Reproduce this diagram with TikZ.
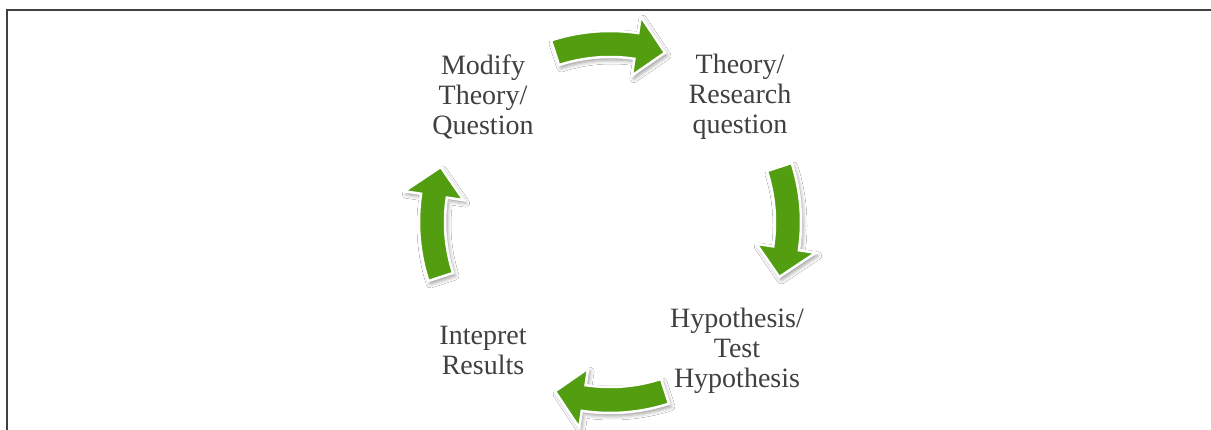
\documentclass[tikz,border=0pt]{standalone}
\usepackage{fontspec}
\setmainfont{Liberation Serif}
\usetikzlibrary{shadows.blur}
\definecolor{arrowgreen}{RGB}{82,158,16}
\definecolor{labelgray}{RGB}{64,64,64}
\begin{document}
\begin{tikzpicture}[x=1pt,y=-1pt,
  cyclelabel/.style={align=center, text=labelgray,
    font=\fontsize{28}{30}\selectfont, inner sep=0pt},
  cyclearrow/.style={fill=arrowgreen, draw=white, line width=2.5pt,
    line join=miter,
    blur shadow={shadow xshift=2pt, shadow yshift=-3pt,
      shadow blur radius=4pt, shadow opacity=40}}]
\useasboundingbox (0,0) rectangle (1211,430);
\fill[white] (0,0) rectangle (1211,430);
% page frame
\draw[line width=2pt, black!75, line join=miter] (7,432) -- (7,10) -- (1213,10);

% centre of the cycle
\def\cx{610}\def\cy{222}\def\R{178}
\coordinate (hub) at (\cx,\cy);

% four curved block arrows, clockwise
\foreach \b in {-90,0,90,180}{
  \pgfmathsetmacro\aa{\b-18}
  \pgfmathsetmacro\ah{\b+8.5}
  \pgfmathsetmacro\ae{\b+18}
  \path[cyclearrow]
    plot[domain=\aa:\ah, samples=24] ({\cx+(\R+13)*cos(\x)},{\cy+(\R+13)*sin(\x)})
    -- ({\cx+(\R+30)*cos(\ah)},{\cy+(\R+30)*sin(\ah)})
    -- ({\cx+\R*cos(\ae)},{\cy+\R*sin(\ae)})
    -- ({\cx+(\R-30)*cos(\ah)},{\cy+(\R-30)*sin(\ah)})
    -- plot[domain=\ah:\aa, samples=24] ({\cx+(\R-13)*cos(\x)},{\cy+(\R-13)*sin(\x)})
    -- cycle;
}

% stage labels
\node[cyclelabel] (modify) at (483,97) {Modify\\Theory/\\Question};
\node[cyclelabel] (theory) at (740,97) {Theory/\\Research\\question};
\node[cyclelabel] (hypo)   at (737,351) {Hypothesis/\\Test\\Hypothesis};
\node[cyclelabel] (interp) at (483,350) {Intepret\\Results};
\end{tikzpicture}
\end{document}
